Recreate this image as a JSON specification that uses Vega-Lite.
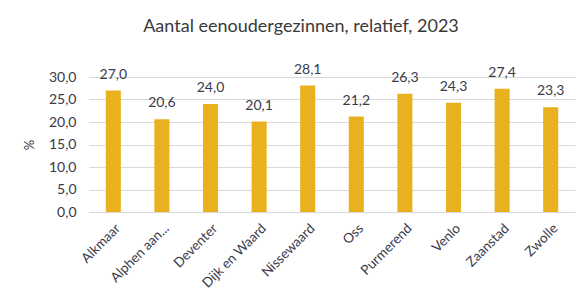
{
  "$schema": "https://vega.github.io/schema/vega-lite/v6.json",
  "width": 486,
  "height": 135,
  "autosize": "none",
  "padding": {"left": 89, "top": 77, "right": 2, "bottom": 81},
  "background": "white",
  "title": {
    "text": "Aantal eenoudergezinnen, relatief, 2023",
    "anchor": "middle",
    "dx": -31,
    "offset": 27,
    "fontSize": 18,
    "font": "Lato",
    "fontWeight": "normal",
    "color": "#3a3a3a"
  },
  "data": {
    "values": [
      {"gemeente": "Alkmaar", "waarde": 27.0},
      {"gemeente": "Alphen aan...", "waarde": 20.6},
      {"gemeente": "Deventer", "waarde": 24.0},
      {"gemeente": "Dijk en Waard", "waarde": 20.1},
      {"gemeente": "Nissewaard", "waarde": 28.1},
      {"gemeente": "Oss", "waarde": 21.2},
      {"gemeente": "Purmerend", "waarde": 26.3},
      {"gemeente": "Venlo", "waarde": 24.3},
      {"gemeente": "Zaanstad", "waarde": 27.4},
      {"gemeente": "Zwolle", "waarde": 23.3}
    ]
  },
  "encoding": {
    "x": {
      "field": "gemeente",
      "type": "nominal",
      "sort": null,
      "scale": {"paddingInner": 0.69, "paddingOuter": 0.345},
      "axis": {
        "title": null,
        "labelAngle": -45,
        "labelAlign": "right",
        "labelBaseline": "top",
        "labelPadding": 9,
        "ticks": false,
        "domain": false,
        "labelFont": "Lato",
        "labelFontSize": 13.5,
        "labelColor": "#3a3a4a"
      }
    },
    "y": {
      "field": "waarde",
      "type": "quantitative",
      "scale": {"domain": [0, 30]},
      "axis": {
        "title": "%",
        "titleFont": "Lato",
        "titleFontSize": 13,
        "titleFontWeight": "normal",
        "titleColor": "#3a3a4a",
        "titlePadding": 12,
        "values": [0, 5, 10, 15, 20, 25, 30],
        "format": ".1f",
        "labelFont": "Lato",
        "labelFontSize": 14,
        "labelColor": "#3a3a4a",
        "labelPadding": 13,
        "ticks": false,
        "domain": false,
        "gridColor": "#d9d9d9"
      }
    }
  },
  "layer": [
    {"mark": {"type": "bar", "color": "#E9B11D"}},
    {
      "mark": {"type": "text", "dy": -16, "font": "Lato", "fontSize": 14, "color": "#3a3a4a"},
      "encoding": {"text": {"field": "waarde", "type": "quantitative", "format": ".1f"}}
    }
  ],
  "config": {
    "view": {"stroke": null},
    "locale": {"number": {"decimal": ",", "thousands": ".", "grouping": [3], "currency": ["€", ""]}}
  }
}
